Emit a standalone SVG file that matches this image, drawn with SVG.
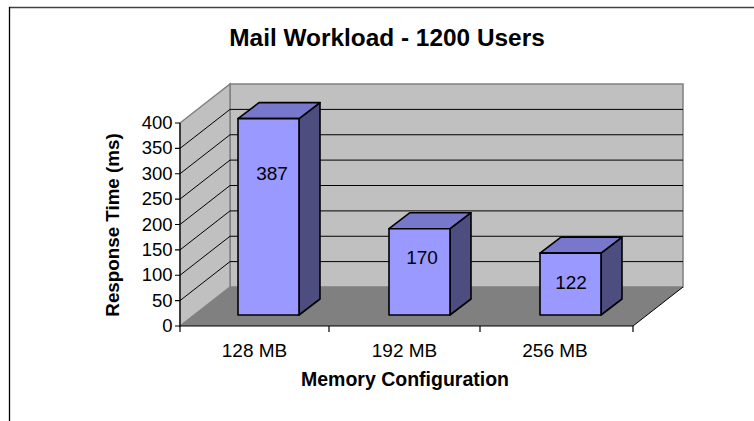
<svg xmlns="http://www.w3.org/2000/svg" width="754" height="421" viewBox="0 0 754 421">
<style>
.t{font-family:"Liberation Sans",Arial,sans-serif;fill:#000}
.tick{font-size:18.5px;text-anchor:end}
.cat{font-size:19px;text-anchor:middle}
.val{font-size:19px;text-anchor:middle}
.b{font-weight:bold}
.grid{stroke:#000;stroke-width:1;fill:none}
.wall{fill:#C0C0C0;stroke:#808080;stroke-width:1.5}
.front{fill:#9999FF;stroke:#000;stroke-width:1.6;stroke-linejoin:round}
.top{fill:#7777CC;stroke:#000;stroke-width:1.6;stroke-linejoin:round}
.side{fill:#4D4D80;stroke:#000;stroke-width:1.6;stroke-linejoin:round}
.ax{stroke:#000;stroke-width:1.2;fill:none}
</style>
<rect width="754" height="421" fill="#fff"/>
<g id="frame">
<line x1="9" y1="7.5" x2="754" y2="7.5" stroke="#404040" stroke-width="1.3"/>
<line x1="9.5" y1="7" x2="9.5" y2="421" stroke="#000" stroke-width="1.3"/>
</g>
<g id="plot-area">
<polygon class="wall" points="230,84 683,84 683,287 230,287"/>
<polygon class="wall" points="180,123 230,84 230,287 180,326"/>
<polygon points="180,326 230,287 683,287 633,326" fill="#808080"/>
<line x1="633" y1="326" x2="683" y2="287" stroke="#000" stroke-width="1"/>
</g>
<g id="gridlines">
<path class="grid" d="M230,261.6H683M230,236.25H683M230,210.9H683M230,185.5H683M230,160.1H683M230,134.75H683M230,109.4H683"/>
<path class="grid" d="M180,300.6L230,261.6M180,275.25L230,236.25M180,249.9L230,210.9M180,224.5L230,185.5M180,199.1L230,160.1M180,173.75L230,134.75M180,148.4L230,109.4"/>
</g>
<g id="axes">
<path class="ax" d="M180,123V326H633"/>
<path class="ax" d="M175,326H180M175,300.6H180M175,275.25H180M175,249.9H180M175,224.5H180M175,199.1H180M175,173.75H180M175,148.4H180M175,123H180"/>
<path class="ax" d="M180,326V332M329,326V332M480,326V332M633,326V332"/>
<g class="t tick">
<text x="172.5" y="332">0</text>
<text x="172.5" y="306.6">50</text>
<text x="172.5" y="281.2">100</text>
<text x="172.5" y="255.9">150</text>
<text x="172.5" y="230.5">200</text>
<text x="172.5" y="205.1">250</text>
<text x="172.5" y="179.7">300</text>
<text x="172.5" y="154.4">350</text>
<text x="172.5" y="129">400</text>
</g>
<g class="t cat">
<text x="254.5" y="357">128 MB</text>
<text x="404.5" y="357">192 MB</text>
<text x="555" y="357">256 MB</text>
</g>
</g>
<g id="bar-128MB">
<polygon class="side" points="299,118.6 320,102.6 320,299 299,315"/>
<polygon class="top" points="238,118.6 299,118.6 320,102.6 259,102.6"/>
<rect class="front" x="238" y="118.6" width="61" height="196.4"/>
<text class="t val" x="272" y="180">387</text>
</g>
<g id="bar-192MB">
<polygon class="side" points="450,228.7 471,212.7 471,299 450,315"/>
<polygon class="top" points="389,228.7 450,228.7 471,212.7 410,212.7"/>
<rect class="front" x="389" y="228.7" width="61" height="86.3"/>
<text class="t val" x="422" y="264">170</text>
</g>
<g id="bar-256MB">
<polygon class="side" points="601,253.1 622,237.1 622,299 601,315"/>
<polygon class="top" points="540,253.1 601,253.1 622,237.1 561,237.1"/>
<rect class="front" x="540" y="253.1" width="61" height="61.9"/>
<text class="t val" x="571" y="289">122</text>
</g>
<g id="titles">
<text class="t b" x="387" y="46" font-size="24.4" text-anchor="middle">Mail Workload - 1200 Users</text>
<text class="t b" x="405" y="386" font-size="19.5" text-anchor="middle">Memory Configuration</text>
<text class="t b" transform="translate(119,225) rotate(-90)" font-size="18.8" text-anchor="middle">Response Time (ms)</text>
</g>
</svg>
